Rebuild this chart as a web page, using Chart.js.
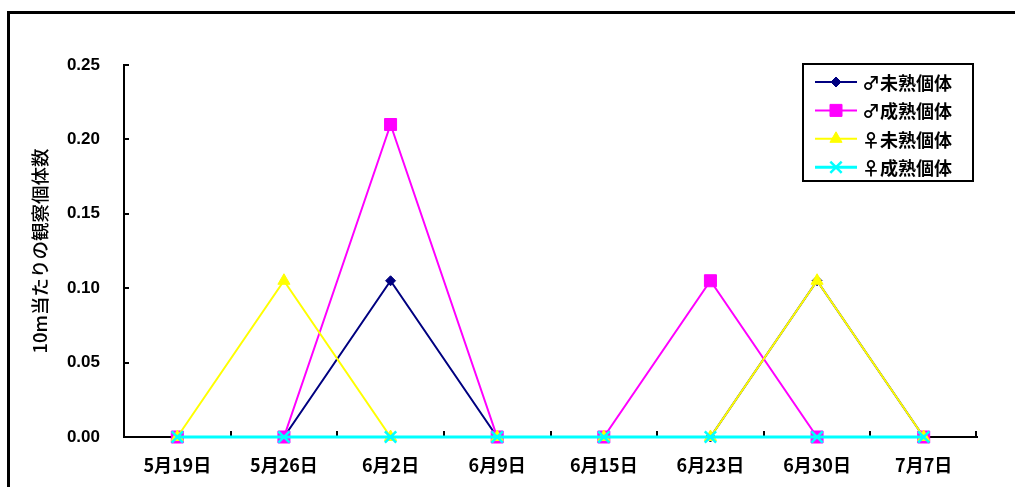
<!DOCTYPE html>
<html lang="ja">
<head>
<meta charset="utf-8">
<script src="https://cdn.jsdelivr.net/npm/chart.js@4/dist/chart.umd.min.js"></script>
<style>
  html, body { margin: 0; padding: 0; background: #fff; overflow: hidden; }
  .frame { position: absolute; left: 7px; top: 11px; width: 1200px; height: 700px;
           border: 3px solid #000; box-sizing: border-box; }
  #wrap { position: absolute; left: 0; top: 0; width: 1015px; height: 487px; }
</style>
</head>
<body>
<div class="frame"></div>
<div id="wrap"><canvas id="c" width="1015" height="487"></canvas></div>
<script>
// Survey dates
const dates = ['5月19日', '5月26日', '6月2日', '6月9日', '6月15日', '6月23日', '6月30日', '7月7日'];

// Individuals observed per 10 m
const maleImmature   = [0, 0, 0.105, 0, 0, 0, 0.105, 0];
const maleMature     = [0, 0, 0.21, 0, 0, 0.105, 0, 0];
const femaleImmature = [0, 0.105, 0, 0, 0, 0, 0.105, 0];
const femaleMature   = [0, 0, 0, 0, 0, 0, 0, 0];

const seriesNames = ['♂未熟個体', '♂成熟個体', '♀未熟個体', '♀成熟個体'];

const yMin = 0, yMax = 0.25, yStep = 0.05;
const yTitle = '10m当たりの観察個体数';

const FONT = "'Liberation Sans', 'Noto Sans CJK JP', sans-serif";
const FONT_JP = "'Noto Sans CJK JP', sans-serif";

// Short inward tick marks on both axes plus the boxed legend
const axisDecor = {
  id: 'axisDecor',
  beforeDatasetsDraw(chart) {
    const ctx = chart.ctx;
    const xs = chart.scales.x, ys = chart.scales.y;
    const area = chart.chartArea;
    ctx.save();
    ctx.strokeStyle = '#000';
    ctx.lineWidth = 2;
    // y ticks point right
    ys.ticks.forEach(t => {
      const y = Math.round(ys.getPixelForValue(t.value));
      ctx.beginPath();
      ctx.moveTo(area.left, y);
      ctx.lineTo(area.left + 5, y);
      ctx.stroke();
    });
    // x ticks between categories point up
    const n = xs.getLabels().length;
    for (let i = 1; i <= n; i++) {
      const x = i < n
        ? Math.round((xs.getPixelForValue(i - 1) + xs.getPixelForValue(i)) / 2)
        : area.right - 1;
      ctx.beginPath();
      ctx.moveTo(x, area.bottom);
      ctx.lineTo(x, area.bottom - 6);
      ctx.stroke();
    }
    ctx.restore();
  },
  afterDraw(chart) {
    const ctx = chart.ctx;
    const area = chart.chartArea;
    const boxW = 170, boxH = 117;
    const bx = area.right - boxW - 4, by = area.top - 1;
    ctx.save();
    ctx.fillStyle = '#fff';
    ctx.fillRect(bx, by, boxW, boxH);
    ctx.strokeStyle = '#000';
    ctx.lineWidth = 2;
    ctx.strokeRect(bx, by, boxW, boxH);
    chart.data.datasets.forEach((ds, i) => {
      const y = by + 18 + i * 28.4;
      const x0 = bx + 12, x1 = bx + 54, xm = (x0 + x1) / 2;
      ctx.strokeStyle = ds.borderColor;
      ctx.fillStyle = ds.borderColor;
      ctx.lineWidth = ds.borderWidth;
      ctx.beginPath();
      ctx.moveTo(x0, y);
      ctx.lineTo(x1, y);
      ctx.stroke();
      ctx.lineWidth = ds.pointBorderWidth;
      Chart.helpers.drawPoint(ctx, {
        pointStyle: ds.pointStyle,
        radius: ds.pointRadius,
        borderWidth: ds.pointBorderWidth
      }, xm, y);
      ctx.fillStyle = '#000';
      ctx.font = "bold 18px " + FONT_JP;
      ctx.textBaseline = 'middle';
      ctx.textAlign = 'left';
      ctx.fillText(ds.label, bx + 59, y + 1);
    });
    ctx.restore();
  }
};

function series(label, data, color, style, radius, width, order) {
  return {
    label, data, order,
    clip: false,
    borderColor: color,
    backgroundColor: color,
    borderWidth: width,
    pointStyle: style,
    pointRadius: radius,
    pointHoverRadius: radius,
    pointBackgroundColor: color,
    pointBorderColor: color,
    pointBorderWidth: style === 'crossRot' ? 2.5 : 1,
    tension: 0,
    fill: false
  };
}

new Chart(document.getElementById('c'), {
  type: 'line',
  data: {
    labels: dates,
    datasets: [
      series(seriesNames[0], maleImmature, '#000080', 'rectRot', 5, 2, 4),
      series(seriesNames[1], maleMature, '#FF00FF', 'rect', 8.5, 2, 3),
      series(seriesNames[2], femaleImmature, '#FFFF00', 'triangle', 7, 2, 2),
      series(seriesNames[3], femaleMature, '#00FFFF', 'crossRot', 8, 3, 1)
    ]
  },
  options: {
    responsive: false,
    animation: false,
    devicePixelRatio: 1,
    layout: { padding: { top: 65, right: 38, bottom: 0, left: 0 } },
    plugins: {
      legend: { display: false },
      tooltip: { enabled: false }
    },
    scales: {
      x: {
        type: 'category',
        offset: true,
        grid: { drawOnChartArea: false, drawTicks: false, offset: true },
        border: { color: '#000', width: 2 },
        ticks: {
          color: '#000',
          padding: 17,
          maxRotation: 0,
          autoSkip: false,
          font: { family: FONT_JP, size: 18, weight: 'bold' }
        },
        afterFit(s) { s.height = 50; }
      },
      y: {
        min: yMin,
        max: yMax,
        grid: { drawOnChartArea: false, drawTicks: false },
        border: { color: '#000', width: 2 },
        ticks: {
          stepSize: yStep,
          color: '#000',
          padding: 24,
          font: { family: FONT, size: 17, weight: 'bold' },
          callback: v => Number(v).toFixed(2)
        },
        title: {
          display: true,
          text: yTitle,
          color: '#000',
          padding: { top: 29, bottom: 0 },
          font: { family: FONT_JP, size: 18.5, weight: '500' }
        },
        afterFit(s) { s.width = 124; }
      }
    }
  },
  plugins: [axisDecor]
});
</script>
</body>
</html>
